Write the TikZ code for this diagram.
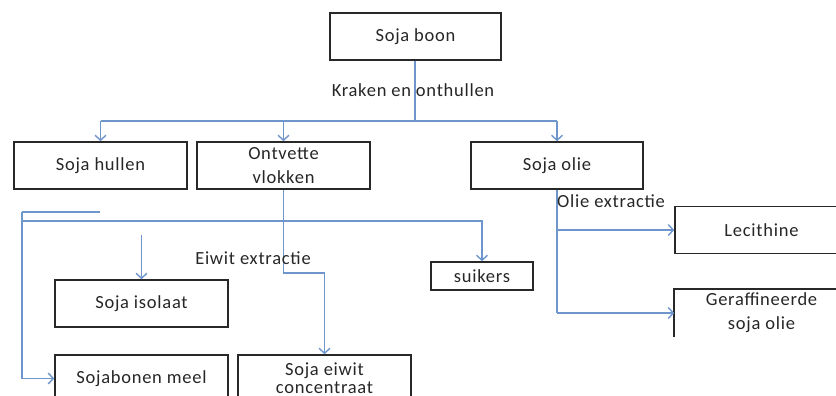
\documentclass[tikz,border=0pt]{standalone}
\usepackage{fontspec}
\setmainfont{Carlito}[LetterSpace=4]
\usetikzlibrary{arrows.meta}
\definecolor{flowblue}{RGB}{110,150,205}
\definecolor{boxgray}{RGB}{40,40,40}

\begin{document}
\begin{tikzpicture}[x=1pt, y=-1pt,
        box/.style={draw=boxgray, line width=1.6pt, minimum width=173pt, minimum height=47pt,
            inner sep=0pt, align=center, text=black!85, font=\fontsize{18.5}{24}\selectfont},
        flow/.style={draw=flowblue, line width=1.4pt},
        arr/.style={flow, -{Straight Barb[length=5pt, width=11pt]}},
        lbl/.style={text=black!85, inner sep=0pt, font=\fontsize{18.5}{24}\selectfont}]
    \useasboundingbox (0,0) rectangle (836,396);
    \clip (0,0) rectangle (836,396);

    % Boxes
    \node[box, minimum width=171pt] (boon) at (415.5,36.5) {Soja boon};
    \node[box] (hullen) at (100.5,165.5) {Soja hullen};
    \node[box] (vlokken) at (283.5,165.5) {Ontvette\\vlokken};
    \node[box, minimum width=172pt] (olie) at (557,165.5) {Soja olie};
    \node[box] (isolaat) at (141.5,303.5) {Soja isolaat};
    \node[box] (meel) at (141.5,378.5) {Sojabonen meel};
    \node[box, font=\fontsize{18.5}{18}\selectfont] (conc) at (324.5,378.5) {Soja eiwit\\concentraat};
    \node[box, minimum width=102pt, minimum height=28pt] (suikers) at (482,276) {suikers};
    \node[box] (lecithine) at (761.5,230) {Lecithine};
    \node[box, draw=none] (ger) at (761.5,313) {Geraffineerde\\soja olie};
    \draw[boxgray, line width=1.6pt] (ger.south west) -- (ger.north west) -- (ger.north east);

    % Kraken en onthullen
    \coordinate (split) at (415,121);
    \draw[flow] (boon.south -| split) -- (split);
    \draw[flow] (split -| hullen.north) -- (split -| olie.north);
    \draw[arr] (split -| hullen.north) -- (hullen.north);
    \draw[arr] (split -| vlokken.north) -- (vlokken.north);
    \draw[arr] (split -| olie.north) -- (olie.north);
    \node[lbl] at (413,90) {Kraken en onthullen};

    % Eiwit extractie
    \coordinate (sidetop) at (22,212);
    \coordinate (sidejoin) at (22,221);
    \coordinate (isotop) at (141.5,235);
    \draw[flow] (sidetop) -- (100,212);
    \draw[arr] (sidetop) |- (meel.west);
    \draw[arr] (sidejoin) -| (suikers.north);
    \draw[arr] (isotop) -- (isolaat.north);
    \draw[arr] (vlokken.south) -- ++(0,83) -| (conc.north);
    \node[lbl] at (253,258) {Eiwit extractie};

    % Olie extractie
    \draw[flow] (olie.south) -- (olie.south |- ger.west);
    \draw[arr] (olie.south |- lecithine.west) -- (lecithine.west);
    \draw[arr] (olie.south |- ger.west) -- (ger.west);
    \node[lbl, anchor=west] at (557,201) {Olie extractie};
\end{tikzpicture}
\end{document}
